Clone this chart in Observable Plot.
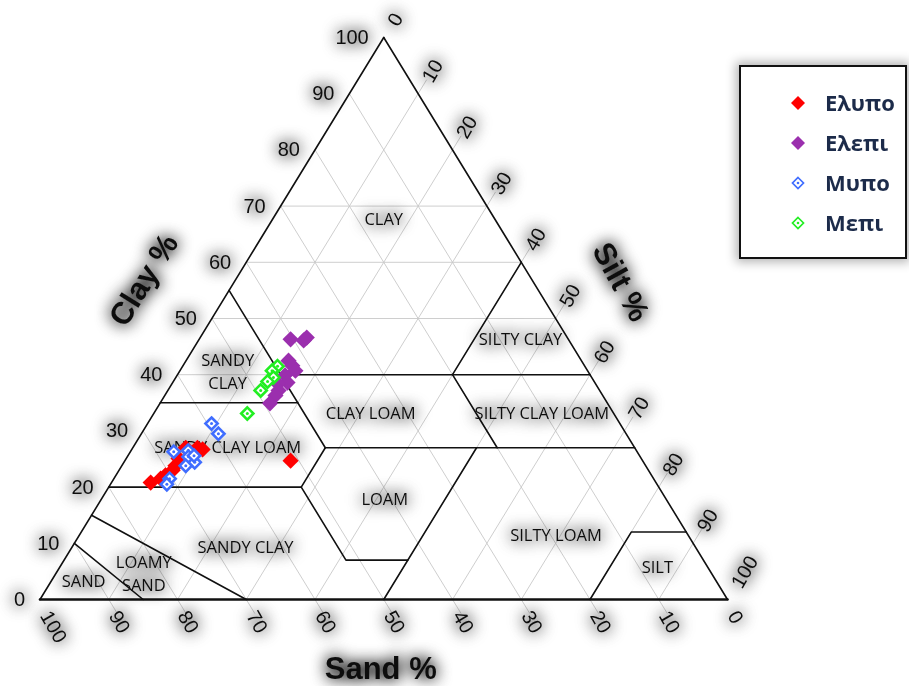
<!DOCTYPE html>
<html>
<head>
<meta charset="utf-8">
<script src="https://cdn.jsdelivr.net/npm/d3@7"></script>
<script src="https://cdn.jsdelivr.net/npm/@observablehq/plot@0.6"></script>
<style>
  body { margin: 0; background: #fff; }
  #wrap { position: relative; width: 909px; height: 686px; overflow: hidden; }
  #legend {
    position: absolute; left: 739px; top: 65px; width: 164px; height: 190px;
    border: 2px solid #111; background: #fff;
    box-shadow: 0 0 10px 3px rgba(0,0,0,0.3);
    font: 700 22px "Open Sans", sans-serif; color: #1c2b4a;
  }
  #legend .row { position: absolute; left: 0; height: 30px; line-height: 30px; }
  #legend svg { position: absolute; left: 48px; top: 6px; }
  #legend span { position: absolute; left: 84px; top: -1px; white-space: nowrap; }
</style>
</head>
<body>
<div id="wrap"></div>
<script>
// Soil samples as [sand %, clay %]; silt % is the remainder.
const ELYPO = [[73.5,20.8],[71.7,21.5],[70.7,22.1],[69.2,23.0],[68.4,23.8],[67.3,25.1],
               [65.3,27.0],[63.6,27.0],[63.0,26.7],[51.2,24.7]];
const ELEPI = [[40.4,46.3],[38.6,46.1],[37.9,46.6],[42.6,42.5],[42.5,41.6],[42.5,40.7],
               [44.4,39.9],[44.7,38.6],[46.2,38.4],[46.7,37.2],[47.6,36.3],[49.1,34.9]];
const MYPO  = [[59.4,31.3],[59.3,29.5],[67.4,26.3],[65.2,26.5],[65.7,25.4],[65.3,24.4],
               [64.8,25.6],[66.9,23.8],[70.4,21.5],[71.3,20.5]];
const MEPI  = [[44.7,41.5],[45.9,40.7],[46.3,39.5],[47.5,38.8],[49.3,37.2],[53.3,33.1]];

const SERIES = ["Ελυπο", "Ελεπι", "Μυπο", "Μεπι"];
const COLORS = ["#ff0000", "#9b2fae", "#3f6dff", "#22ee22"];

const TICKS = [0, 10, 20, 30, 40, 50, 60, 70, 80, 90, 100];
const CLAY_GRID = [40, 50, 60, 70];

// Texture class boundaries, polylines in [sand, clay]
const BOUNDARIES = [
  [[80,20],[52,20]],
  [[65,35],[45,35]],
  [[45,55],[45,27]],
  [[45,27],[52,20],[52,7],[43,7]],
  [[50,0],[23,27]],
  [[45,27],[0,27]],
  [[45,40],[0,40]],
  [[20,40],[0,60]],
  [[20,40],[20,27]],
  [[20,0],[8,12],[0,12]],
  [[85,15],[70,0]],
  [[90,10],[85,0]]
];

// Class names at [sand, clay]
const CLASS_NAMES = ["CLAY", "SANDY\nCLAY", "SILTY CLAY", "CLAY LOAM", "SILTY CLAY LOAM",
  "SANDY CLAY LOAM", "LOAM", "SILTY LOAM", "SILT", "SANDY CLAY", "LOAMY\nSAND", "SAND"];
const CLASS_POS = [[16,68],[52.3,40.8],[6.8,46.6],[35.2,33.4],[10.3,33.4],
  [59.0,27.4],[40.8,18.1],[19.1,11.7],[7.2,6.0],[65.3,9.6],[82.5,4.8],[91.9,3.5]];

// ternary [sand, clay] -> plot x / y (sand 100 at the left corner, clay upward)
const tx = d => 100 - d[0] - d[1] / 2;
const ty = d => d[1];

const EXT = 2.5;
const gridSegs = [];
for (const t of TICKS.slice(1, -1)) {
  gridSegs.push({a: [t, -EXT], b: [t, 100 - t]});            // constant sand
  gridSegs.push({a: [100 - t, 0], b: [-EXT, 100 - t + EXT]}); // constant silt
}
for (const c of CLAY_GRID) gridSegs.push({a: [100 - c, c], b: [0, c]});

const boundaryPts = BOUNDARIES.flatMap((line, k) => line.map(p => ({p, k})));
const classes = CLASS_NAMES.map((name, i) => ({name, p: CLASS_POS[i]}));
const samples = [ELYPO, ELEPI, MYPO, MEPI];

const dotMarks = samples.flatMap((pts, i) => {
  const filled = i < 2;
  return filled
    ? [Plot.dot(pts, {x: tx, y: ty, symbol: "diamond2", r: 7.3, fill: COLORS[i]})]
    : [Plot.dot(pts, {x: tx, y: ty, symbol: "diamond2", r: 5.5, fill: "#fff", stroke: COLORS[i], strokeWidth: 2.6}),
       Plot.dot(pts, {x: tx, y: ty, r: 1.5, fill: COLORS[i]})];
});

const chart = Plot.plot({
  width: 909, height: 686,
  marginLeft: 39.5, marginRight: 182, marginTop: 37, marginBottom: 87,
  x: {domain: [0, 100], axis: null},
  y: {domain: [0, 100], axis: null},
  style: {background: "#fff", overflow: "visible"},
  marks: [
    Plot.link(gridSegs, {x1: d => tx(d.a), y1: d => ty(d.a), x2: d => tx(d.b), y2: d => ty(d.b),
      stroke: "#c8c8c8", strokeWidth: 0.9}),
    Plot.line(boundaryPts, {x: d => tx(d.p), y: d => ty(d.p), z: "k", stroke: "#111", strokeWidth: 1.6}),
    Plot.line([[0,100],[100,0]], {x: tx, y: ty, stroke: "#111", strokeWidth: 1.6}),
    Plot.line([[0,100],[0,0]], {x: tx, y: ty, stroke: "#111", strokeWidth: 1.6}),
    Plot.line([[100,0],[0,0]], {x: tx, y: ty, stroke: "#111", strokeWidth: 2.6}),
    Plot.text(classes, {x: d => tx(d.p), y: d => ty(d.p), text: "name", fontSize: 16.5,
      fill: "#111", lineHeight: 1.4, fontFamily: "Open Sans"}),
    // clay ticks on the left edge
    Plot.text(TICKS, {x: c => c / 2, y: c => c, text: String, textAnchor: "end", dx: -15,
      fontSize: 20, fontFamily: "Liberation Sans", fill: "#111"}),
    // sand ticks below the base
    Plot.text(TICKS, {x: s => 100 - s, y: 0, text: String, textAnchor: "start", rotate: 60,
      dx: 5, dy: 13, fontSize: 20, fontFamily: "Liberation Sans", fill: "#111"}),
    // silt ticks on the right edge
    Plot.text(TICKS, {x: t => 50 + t / 2, y: t => 100 - t, text: String, textAnchor: "start", rotate: -60,
      dx: 9, dy: -13, fontSize: 20, fontFamily: "Liberation Sans", fill: "#111"}),
    Plot.text(["Clay %"], {x: 28.5, y: 57, dx: -92, dy: 1, rotate: -58, fontSize: 31,
      fontWeight: "bold", fontFamily: "Liberation Sans", fill: "#111"}),
    Plot.text(["Silt %"], {x: 71.5, y: 57, dx: 89, dy: 3, rotate: 61, fontSize: 31,
      fontWeight: "bold", fontFamily: "Liberation Sans", fill: "#111"}),
    Plot.text(["Sand %"], {x: 50, y: 0, dx: -3, dy: 70, fontSize: 31,
      fontWeight: "bold", fontFamily: "Liberation Sans", fill: "#111"}),
    ...dotMarks
  ]
});

// soft grey halo behind the lettering
const svg = d3.select(chart);
const defs = svg.insert("defs", ":first-child");
const f = defs.append("filter").attr("id", "halo").attr("filterUnits", "userSpaceOnUse")
  .attr("x", -50).attr("y", -50).attr("width", 1010).attr("height", 790);
f.append("feGaussianBlur").attr("in", "SourceAlpha").attr("stdDeviation", 8).attr("result", "b");
f.append("feComponentTransfer").attr("in", "b").attr("result", "s")
  .append("feFuncA").attr("type", "linear").attr("slope", 1.6);
const m = f.append("feMerge");
m.append("feMergeNode").attr("in", "s");
m.append("feMergeNode").attr("in", "SourceGraphic");
svg.selectAll('g[aria-label="text"]').attr("filter", "url(#halo)");

const wrap = document.getElementById("wrap");
wrap.appendChild(chart);

// legend
const legend = document.createElement("div");
legend.id = "legend";
SERIES.forEach((name, i) => {
  const row = document.createElement("div");
  row.className = "row";
  row.style.top = (21 + i * 40) + "px";
  row.style.width = "160px";
  const filled = i < 2;
  row.innerHTML =
    `<svg width="18" height="18" viewBox="-9 -9 18 18">` +
    (filled
      ? `<path d="M0,-7L7,0L0,7L-7,0Z" fill="${COLORS[i]}"/>`
      : `<path d="M0,-5.5L5.5,0L0,5.5L-5.5,0Z" fill="#fff" stroke="${COLORS[i]}" stroke-width="1.7"/><circle r="1.3" fill="${COLORS[i]}"/>`) +
    `</svg><span>${name}</span>`;
  legend.appendChild(row);
});
wrap.appendChild(legend);
</script>
</body>
</html>
